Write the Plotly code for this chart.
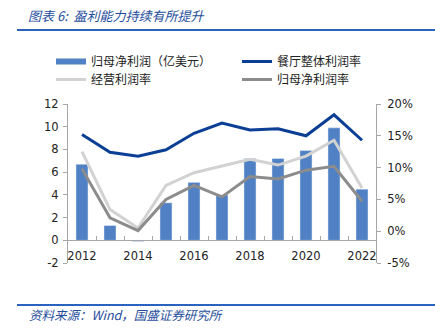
import plotly.graph_objects as go

years = ["2012", "2013", "2014", "2015", "2016", "2017", "2018", "2019", "2020", "2021", "2022"]
net_profit = [6.7, 1.3, -0.1, 3.3, 5.1, 4.0, 7.2, 7.2, 7.9, 9.9, 4.5]          # 亿美元
restaurant_margin = [15.2, 12.4, 11.8, 12.8, 15.4, 17.0, 15.9, 16.1, 15.0, 18.3, 14.3]  # %
operating_margin = [12.5, 3.4, 0.5, 7.2, 9.2, 10.2, 11.3, 10.4, 11.8, 14.3, 6.8]      # %
net_margin = [9.8, 2.1, 0.1, 5.0, 7.2, 5.4, 8.6, 8.2, 9.6, 10.2, 4.7]               # %
names = ["归母净利润（亿美元）", "餐厅整体利润率", "经营利润率", "归母净利润率"]
left_ticks = [-2, 0, 2, 4, 6, 8, 10, 12]
left_labels = ["-2", "0", "2", "4", "6", "8", "10", "12"]
right_ticks = [-5, 0, 5, 10, 15, 20]
right_labels = ["-5%", "0%", "5%", "10%", "15%", "20%"]
title_text = "图表 6:  盈利能力持续有所提升"
source_text = "资料来源：Wind，国盛证券研究所"

tick_text = [y if i % 2 == 0 else "" for i, y in enumerate(years)]

BAR = "#4f81c4"
DBLUE = "#0b3f95"
LGRAY = "#d2d2d2"
DGRAY = "#8c8c8c"
AX = "#a6a6a6"
FONT = "DejaVu Sans"
CJK = "Noto Sans CJK SC"
TXT = "#222222"

L, R, T, B = 68, 59, 104, 68
W, H = 435, 331
PW, PH = W - L - R, H - T - B

def px(x):
    return (x - L) / PW

def py(y):
    return (H - B - y) / PH

fig = go.Figure()
fig.add_trace(go.Bar(x=years, y=net_profit, marker_color=BAR, width=0.43,
                     showlegend=False, name=names[0]))
# legend proxy for bars (wide swatch)
fig.add_trace(go.Scatter(x=[None], y=[None], mode="lines", name=names[0],
                         line=dict(color=BAR, width=6), legend="legend"))
fig.add_trace(go.Scatter(x=years, y=restaurant_margin, mode="lines", name=names[1],
                         line=dict(color=DBLUE, width=3), yaxis="y2", legend="legend2"))
fig.add_trace(go.Scatter(x=years, y=operating_margin, mode="lines", name=names[2],
                         line=dict(color=LGRAY, width=3), yaxis="y2", legend="legend3"))
fig.add_trace(go.Scatter(x=years, y=net_margin, mode="lines", name=names[3],
                         line=dict(color=DGRAY, width=3), yaxis="y2", legend="legend4"))

legend_common = dict(orientation="v", bgcolor="rgba(0,0,0,0)", borderwidth=0,
                     font=dict(family=CJK, size=12, color=TXT),
                     xanchor="left", yanchor="top", itemwidth=30)

tf = dict(family=FONT, size=11.5, color=TXT)

fig.update_layout(
    width=W, height=H,
    margin=dict(l=L, r=R, t=T, b=B, pad=0),
    paper_bgcolor="white", plot_bgcolor="white",
    font=dict(family=FONT, size=11.5, color=TXT),
    xaxis=dict(type="category", tickmode="array", tickvals=years, ticktext=tick_text,
               tickson="boundaries", ticks="inside", ticklen=4, tickcolor=AX,
               tickangle=0, ticklabelstandoff=5,
               showline=True, linecolor=AX, linewidth=1, showgrid=False,
               anchor="free", position=2 / 14, range=[-0.5, 10.5], tickfont=tf),
    yaxis=dict(range=[-2, 12], tickmode="array", tickvals=left_ticks, ticktext=left_labels,
               showgrid=False, zeroline=False, ticklabelstandoff=2,
               showline=True, linecolor=AX, linewidth=1, ticks="outside", ticklen=4,
               tickcolor=AX, tickfont=tf),
    yaxis2=dict(range=[-5, 20], tickmode="array", tickvals=right_ticks, ticktext=right_labels,
                overlaying="y", side="right", ticklabelstandoff=4,
                showgrid=False, zeroline=False, showline=True, linecolor=AX, linewidth=1,
                ticks="outside", ticklen=4, tickcolor=AX, tickfont=tf),
    legend=dict(x=px(51), y=py(47), **legend_common),
    legend2=dict(x=px(237), y=py(47), **legend_common),
    legend3=dict(x=px(51), y=py(65), **legend_common),
    legend4=dict(x=px(237), y=py(65), **legend_common),
    showlegend=True,
)

fig.add_shape(type="line", xref="paper", yref="paper", x0=px(17), x1=px(435),
              y0=py(30), y1=py(30), line=dict(color="#2a62c0", width=2))
fig.add_shape(type="line", xref="paper", yref="paper", x0=px(17), x1=px(435),
              y0=py(305), y1=py(305), line=dict(color="#2a62c0", width=2))

fig.add_annotation(xref="paper", yref="paper", x=px(26), y=py(16), xanchor="left",
                   yanchor="middle", showarrow=False,
                   text="<i>" + title_text + "</i>",
                   font=dict(family=CJK, size=13, color="#1f4e9c"))
fig.add_annotation(xref="paper", yref="paper", x=px(27), y=py(314), xanchor="left",
                   yanchor="middle", showarrow=False,
                   text="<i>" + source_text + "</i>",
                   font=dict(family=CJK, size=12.5, color="#1f4e9c"))

fig.write_html("out.html")
